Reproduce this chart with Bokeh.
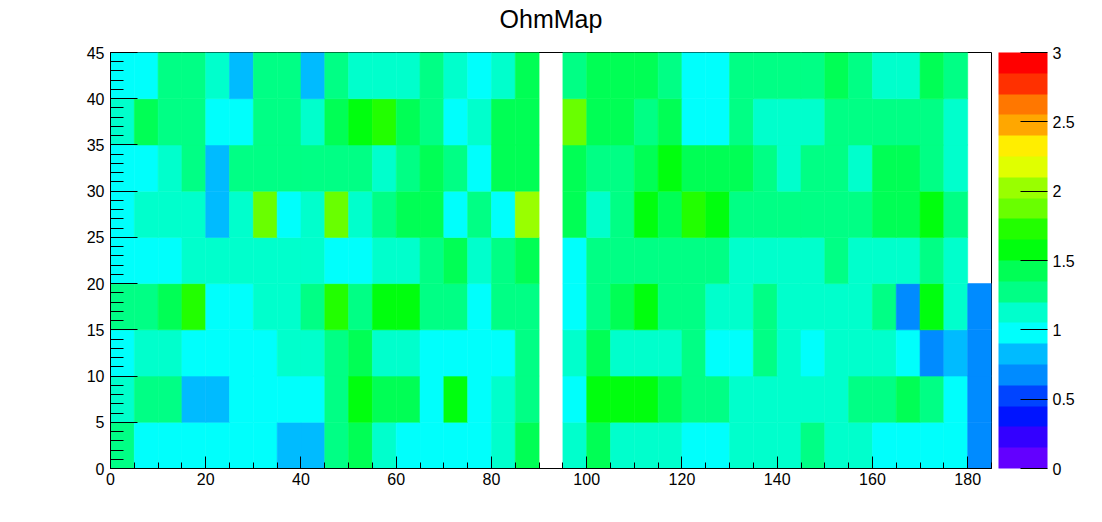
import math
from bokeh.plotting import figure
from bokeh.models import (ColumnDataSource, LinearColorMapper, ColorBar, SingleIntervalTicker,
                          CustomJSTickFormatter, Range1d, LinearAxis, FixedTicker)
from bokeh.transform import transform
from bokeh.embed import file_html
from bokeh.resources import INLINE

NaN = float("nan")

# bin lower edges (bin width 5)
x_bins = list(range(0, 185, 5))   # 37 bins, 0..185
y_bins = list(range(0, 45, 5))    # 9 bins, 0..45
bin_size = 5

# values per y-bin row (one entry per x bin)
row_0_5 = [1.27, 0.97, 0.97, 0.97, 0.97, 0.97, 0.97, 0.83, 0.83, 1.27, 1.42, 1.12, 0.97, 0.97, 0.97, 0.97, 1.12, 1.42, NaN,
           1.12, 1.42, 1.12, 1.12, 1.12, 0.97, 0.97, 1.12, 1.12, 1.12, 1.27, 1.12, 1.12, 0.97, 0.97, 0.97, 0.97, 0.68]
row_5_10 = [1.12, 1.27, 1.27, 0.83, 0.83, 0.97, 0.97, 0.97, 0.97, 1.27, 1.57, 1.42, 1.42, 0.97, 1.57, 0.97, 1.12, 1.27, NaN,
            0.97, 1.57, 1.57, 1.57, 1.42, 1.27, 1.27, 1.12, 1.12, 1.12, 1.12, 1.12, 1.27, 1.27, 1.42, 1.27, 0.97, 0.68]
row_10_15 = [0.97, 1.12, 1.12, 0.97, 0.97, 0.97, 0.97, 1.12, 1.12, 1.27, 1.42, 1.12, 1.12, 0.97, 0.97, 0.97, 0.97, 1.27, NaN,
             1.12, 1.42, 1.12, 1.12, 1.12, 1.27, 0.97, 0.97, 1.27, 1.12, 0.97, 1.12, 1.12, 1.12, 0.97, 0.68, 0.83, 0.68]
row_15_20 = [1.27, 1.27, 1.42, 1.72, 0.97, 0.97, 1.12, 1.12, 1.27, 1.72, 1.27, 1.57, 1.57, 1.27, 1.27, 0.97, 1.27, 1.27, NaN,
             0.97, 1.27, 1.42, 1.57, 1.27, 1.27, 1.12, 1.12, 1.27, 1.12, 1.12, 1.12, 1.12, 1.27, 0.68, 1.57, 1.12, 0.68]
row_20_25 = [0.97, 0.97, 0.97, 1.12, 1.12, 1.12, 1.12, 1.12, 1.12, 0.97, 0.97, 1.12, 1.12, 1.27, 1.42, 1.12, 1.27, 1.42, NaN,
             0.97, 1.27, 1.27, 1.27, 1.27, 1.27, 1.27, 1.12, 1.12, 1.12, 1.12, 1.27, 1.12, 1.12, 1.12, 1.27, 1.12, NaN]
row_25_30 = [0.97, 1.12, 1.12, 1.12, 0.83, 1.12, 1.87, 0.97, 1.12, 1.87, 1.12, 1.27, 1.42, 1.42, 0.97, 1.27, 0.97, 2.02, NaN,
             1.42, 1.12, 1.27, 1.57, 1.42, 1.72, 1.57, 1.27, 1.27, 1.27, 1.27, 1.27, 1.27, 1.42, 1.42, 1.57, 1.27, NaN]
row_30_35 = [0.97, 0.97, 1.12, 1.27, 0.83, 1.27, 1.27, 1.27, 1.27, 1.27, 1.27, 1.12, 1.27, 1.42, 1.27, 0.97, 1.42, 1.42, NaN,
             1.42, 1.27, 1.27, 1.42, 1.57, 1.42, 1.42, 1.42, 1.27, 1.12, 1.27, 1.27, 1.12, 1.42, 1.42, 1.27, 1.12, NaN]
row_35_40 = [1.12, 1.42, 1.27, 1.27, 0.97, 0.97, 1.27, 1.27, 1.12, 1.42, 1.57, 1.72, 1.42, 1.27, 0.97, 1.12, 1.42, 1.42, NaN,
             1.87, 1.42, 1.42, 1.27, 1.42, 0.97, 0.97, 1.27, 1.12, 1.12, 1.12, 1.27, 1.27, 1.27, 1.27, 1.27, 1.12, NaN]
row_40_45 = [0.97, 0.97, 1.27, 1.27, 1.12, 0.83, 1.27, 1.27, 0.83, 1.27, 1.12, 1.12, 1.12, 1.27, 1.12, 0.97, 1.12, 1.42, NaN,
             1.27, 1.42, 1.42, 1.42, 1.27, 0.97, 0.97, 1.27, 1.27, 1.27, 1.27, 1.42, 1.27, 1.12, 1.12, 1.42, 1.27, NaN]

rows = [row_0_5, row_5_10, row_10_15, row_15_20, row_20_25, row_25_30, row_30_35, row_35_40, row_40_45]

z_min, z_max = 0, 3
colorbar_tick_step = 0.5
title_text = "OhmMap"

palette = ["#6300ff", "#3300ff", "#0014ff", "#0044ff", "#008bff", "#00bbff", "#00fffc", "#00ffcc",
           "#00ff85", "#00ff55", "#00ff0e", "#22ff00", "#69ff00", "#99ff00", "#e0ff00", "#ffee00",
           "#ffa700", "#ff7700", "#ff3000", "#ff0000"]

xs, ys, vals = [], [], []
for j, row in enumerate(rows):
    for i, v in enumerate(row):
        if not math.isnan(v):
            xs.append(x_bins[i] + bin_size / 2)
            ys.append(y_bins[j] + bin_size / 2)
            vals.append(v)
src = ColumnDataSource(dict(x=xs, y=ys, value=vals))

FONT = "Liberation Sans"

p = figure(title=None, frame_width=881, frame_height=416, output_backend="svg", toolbar_location=None,
           x_range=Range1d(0, 185), y_range=Range1d(0, 45),
           min_border_left=110, min_border_right=111, min_border_top=52, min_border_bottom=54,
           background_fill_color="white", border_fill_color="white")
p.outline_line_color = "black"
p.outline_line_width = 1
p.grid.visible = False

mapper = LinearColorMapper(palette=palette, low=z_min, high=z_max)
p.rect(x="x", y="y", width=bin_size, height=bin_size, source=src,
       fill_color=transform("value", mapper), line_color=transform("value", mapper), line_width=0.6)

# title drawn as the label of a tick-less axis above the frame
# (its single tick lies outside the x range, so no tick label is drawn)
title_axis = LinearAxis(ticker=FixedTicker(ticks=[-1000], minor_ticks=[]), axis_label=title_text,
                        axis_line_color=None, major_tick_in=0, major_tick_out=0,
                        minor_tick_in=0, minor_tick_out=0,
                        major_tick_line_color=None, minor_tick_line_color=None,
                        axis_label_text_font=FONT, axis_label_text_font_size="25px",
                        axis_label_text_font_style="normal", axis_label_text_color="black",
                        axis_label_standoff=20)
p.add_layout(title_axis, "above")

xax = p.below[0]
yax = p.left[0]
for ax in (xax, yax):
    ax.axis_line_color = "black"
    ax.major_tick_out = 0
    ax.minor_tick_out = 0
    ax.major_tick_line_color = "black"
    ax.minor_tick_line_color = "black"
    ax.major_label_text_font = FONT
    ax.major_label_text_font_size = "16px"
    ax.major_label_text_color = "black"
xax.ticker = SingleIntervalTicker(interval=20, num_minor_ticks=4)
yax.ticker = SingleIntervalTicker(interval=5, num_minor_ticks=5)
xax.major_tick_in = 12
xax.minor_tick_in = 6
yax.major_tick_in = 27
yax.minor_tick_in = 13
xax.major_label_standoff = 4
yax.major_label_standoff = 6

cb = ColorBar(color_mapper=mapper, width=49, height=416, padding=0, margin=0, location=(7, 0),
              ticker=SingleIntervalTicker(interval=colorbar_tick_step, num_minor_ticks=0),
              formatter=CustomJSTickFormatter(code="return tick.toString()"),
              major_tick_in=27, major_tick_out=0, major_tick_line_color="black",
              minor_tick_line_color=None,
              major_label_text_font=FONT, major_label_text_font_size="16px",
              major_label_text_color="black",
              label_standoff=5, bar_line_color=None, border_line_color=None,
              background_fill_color=None)
p.add_layout(cb, "right")

open("out.html", "w").write(file_html(p, INLINE))
